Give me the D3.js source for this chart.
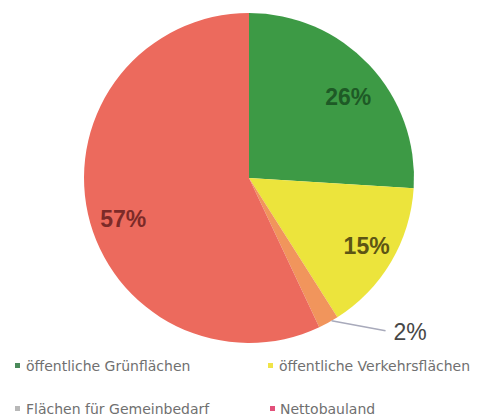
<!DOCTYPE html>
<html>
<head>
<meta charset="utf-8">
<script src="https://cdn.jsdelivr.net/npm/d3@7"></script>
<style>
  html, body { margin: 0; padding: 0; background: #fff; }
  svg { display: block; }
</style>
</head>
<body>
<svg id="chart" width="480" height="416"></svg>
<script>
// Flächenbilanz: share of each land-use category
const categories = [
  "öffentliche Grünflächen",
  "öffentliche Verkehrsflächen",
  "Flächen für Gemeinbedarf",
  "Nettobauland"
];
const values = [26, 15, 2, 57];
const sliceColors = ["#3d9a45", "#ece43c", "#f1955c", "#ec6a5d"];
const labelColors = ["#1e5a26", "#5c5514", "#444444", "#7c2a28"];
const legendColors = ["#4a8a5a", "#f0e448", "#b8b8b8", "#e2507a"];

const svg = d3.select("#chart");
const cx = 249, cy = 178, radius = 165;

const data = categories.map((c, i) => ({ name: c, value: values[i], i }));

const pie = d3.pie().value(d => d.value).sort(null);
const arcs = pie(data);

const arc = d3.arc().innerRadius(0).outerRadius(radius);
const labelArc = d3.arc().innerRadius(132).outerRadius(132);

const g = svg.append("g").attr("transform", `translate(${cx},${cy})`);

g.selectAll("path.slice")
  .data(arcs)
  .join("path")
  .attr("class", "slice")
  .attr("d", arc)
  .attr("fill", d => sliceColors[d.data.i]);

// Inside labels for the larger slices, nudged a little off the centroid
const nudge = { 0: [3, 9], 1: [4, 1], 3: [3, 12] };
g.selectAll("text.inlabel")
  .data(arcs.filter(d => d.data.value >= 5))
  .join("text")
  .attr("class", "inlabel")
  .attr("transform", d => {
    const [x, y] = labelArc.centroid(d);
    const [dx, dy] = nudge[d.data.i] || [0, 0];
    return `translate(${x + dx},${y + dy})`;
  })
  .attr("text-anchor", "middle")
  .attr("dominant-baseline", "central")
  .attr("font-family", "Liberation Sans, Arial, sans-serif")
  .attr("font-weight", "bold")
  .attr("font-size", 23)
  .attr("fill", d => labelColors[d.data.i])
  .text(d => d.data.value + "%");

// Outside label with leader line for the small slice
const small = arcs.filter(d => d.data.value < 5);
const edgeArc = d3.arc().innerRadius(radius - 2).outerRadius(radius - 2);
small.forEach(d => {
  const [x0, y0] = edgeArc.centroid(d);
  const x1 = x0 + 58, y1 = y0 + 10;
  g.append("path")
    .attr("d", d3.line()([[x0 + 4, y0], [x1, y1]]))
    .attr("stroke", "#a8aabb")
    .attr("stroke-width", 1.5)
    .attr("fill", "none");
  g.append("text")
    .attr("x", x1 + 8)
    .attr("y", y1 + 1)
    .attr("dominant-baseline", "central")
    .attr("font-family", "Liberation Sans, Arial, sans-serif")
    .attr("font-size", 23)
    .attr("fill", "#474747")
    .text(d.data.value + "%");
});

// Legend: two columns, two rows
const legendX = [15, 268];
const legendY = [366, 409];
const legend = svg.append("g");
data.forEach((d, k) => {
  const col = k % 2, row = Math.floor(k / 2);
  const item = legend.append("g")
    .attr("transform", `translate(${legendX[col]},${legendY[row]})`);
  item.append("rect")
    .attr("x", col === 1 && row === 1 ? 2 : 0).attr("y", -3)
    .attr("width", 5).attr("height", 5)
    .attr("fill", legendColors[d.i]);
  item.append("text")
    .attr("x", col === 1 && row === 1 ? 12 : 11)
    .attr("y", 0)
    .attr("dominant-baseline", "central")
    .attr("font-family", "DejaVu Sans, Verdana, sans-serif")
    .attr("font-size", 14)
    .attr("fill", "#707070")
    .text(d.name);
});
</script>
</body>
</html>
